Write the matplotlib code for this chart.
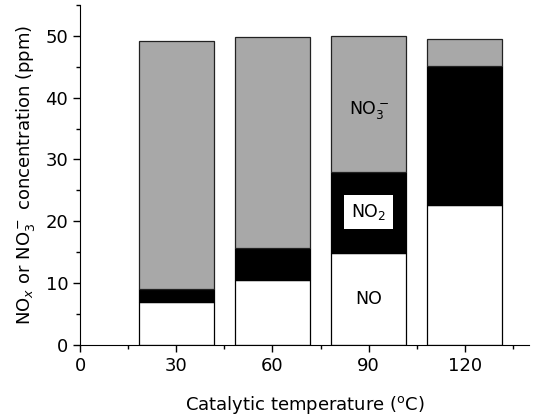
import matplotlib
matplotlib.use("Agg")
import matplotlib.pyplot as plt
import numpy as np
from matplotlib.ticker import MultipleLocator

# temperatures (C) and stacked concentrations (ppm)
temps = [30, 60, 90, 120]
no_vals = [7.0, 10.5, 14.9, 22.7]
no2_vals = [2.1, 5.2, 13.0, 22.4]
no3_vals = [40.1, 34.1, 22.1, 4.4]

plt.rcParams['font.family'] = ['DejaVu Sans']
plt.rcParams['mathtext.fontset'] = 'dejavusans'

fig = plt.figure(figsize=(5.37, 4.2), dpi=100)
ax = fig.add_axes([0.149, 0.179, 0.836, 0.809])

width = 23.5
no = np.array(no_vals)
no2 = np.array(no2_vals)
no3 = np.array(no3_vals)
ax.bar(temps, no, width=width, color='white', edgecolor='black', linewidth=0.9)
ax.bar(temps, no2, width=width, bottom=no, color='black', edgecolor='black', linewidth=0.9)
ax.bar(temps, no3, width=width, bottom=no + no2, color='#a8a8a8', edgecolor='#222222', linewidth=0.9)

# labels inside the 90 C bar
ax.text(90, 38, r'NO$_3^-$', ha='center', va='center', fontsize=12.5)
ax.text(90, 21.5, r'NO$_2$', ha='center', va='center', fontsize=12.5,
        bbox=dict(facecolor='white', edgecolor='none', pad=5))
ax.text(90, 7.4, 'NO', ha='center', va='center', fontsize=12.5)

ax.set_xlim(0, 140)
ax.set_ylim(0, 55)
ax.xaxis.set_major_locator(MultipleLocator(30))
ax.xaxis.set_minor_locator(MultipleLocator(15))
ax.yaxis.set_major_locator(MultipleLocator(10))
ax.yaxis.set_minor_locator(MultipleLocator(5))
ax.spines['top'].set_visible(False)
ax.spines['right'].set_visible(False)
ax.tick_params(which='major', length=5, width=1, labelsize=13)
ax.tick_params(which='minor', length=3, width=1)

ax.set_xlabel(r'Catalytic temperature ($^{\rm o}$C)', fontsize=13, labelpad=14)
ax.set_ylabel(r'NO$_x$ or NO$_3^-$ concentration (ppm)', fontsize=13, labelpad=6)

fig.savefig('out.png', dpi=100)
